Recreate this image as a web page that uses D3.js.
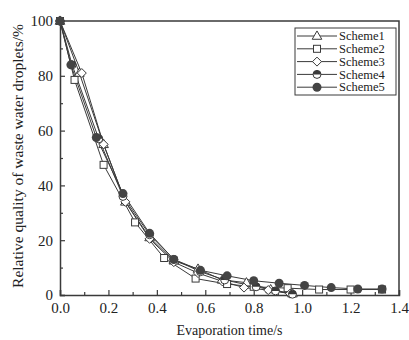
<!DOCTYPE html>
<html>
<head>
<meta charset="utf-8">
<script src="https://cdn.jsdelivr.net/npm/d3@7"></script>
<style>
  body { margin: 0; background: #fff; }
  text { font-family: "Liberation Serif", "Times New Roman", serif; fill: #222; }
</style>
</head>
<body>
<div id="chart-section"></div>
<script>
// data
var schemes = ["Scheme1", "Scheme2", "Scheme3", "Scheme4", "Scheme5"];

var time1 = [0, 0.08, 0.18, 0.27, 0.37, 0.47, 0.57, 0.67, 0.77, 0.87, 0.96];
var mass1 = [100, 81, 55, 34, 21, 12.5, 9.5, 5.5, 4.5, 2, 0.5];

var time2 = [0, 0.06, 0.18, 0.31, 0.43, 0.56, 0.69, 0.80, 0.94, 1.07, 1.20, 1.33];
var mass2 = [100, 78.5, 47.5, 26.5, 13.5, 6, 4, 3, 2.5, 2, 2, 2];

var time3 = [0, 0.09, 0.18, 0.27, 0.37, 0.47, 0.57, 0.67, 0.76, 0.86, 0.95];
var mass3 = [100, 81, 55, 34, 20.5, 12, 8, 5, 2.7, 1.8, 0.5];

var time4 = [0, 0.05, 0.16, 0.26, 0.37, 0.47, 0.58, 0.68, 0.81, 0.89, 0.96];
var mass4 = [100, 84, 57, 36, 22, 13, 8.5, 5.5, 3, 1.5, 0.3];

var time5 = [0, 0.045, 0.15, 0.26, 0.37, 0.47, 0.58, 0.69, 0.80, 0.905, 1.01, 1.12, 1.23, 1.33];
var mass5 = [100, 84, 57.5, 37, 22.5, 13, 9, 7, 5.2, 4.3, 3.5, 2.7, 2.2, 2.2];

var xTicks = [0, 0.2, 0.4, 0.6, 0.8, 1.0, 1.2, 1.4];
var yTicks = [0, 20, 40, 60, 80, 100];

var series = [
  {name: schemes[0], t: time1, m: mass1, mark: "triangle"},
  {name: schemes[1], t: time2, m: mass2, mark: "square"},
  {name: schemes[2], t: time3, m: mass3, mark: "diamond"},
  {name: schemes[3], t: time4, m: mass4, mark: "half"},
  {name: schemes[4], t: time5, m: mass5, mark: "circle"}
];

var margin = {top: 21, right: 10, bottom: 45, left: 60},
    width = 409 - margin.left - margin.right,
    height = 340 - margin.top - margin.bottom;

var svg = d3.select("#chart-section")
    .append("svg")
    .attr("width", 409)
    .attr("height", 340);

var chart = svg.append("g")
    .attr("transform", "translate(" + margin.left + "," + margin.top + ")");

var xscale = d3.scaleLinear().domain([0, 1.4]).range([0, width]);
var yscale = d3.scaleLinear().domain([0, 100]).range([height, 0]);

var ink = "#3a3a3a";

// minor ticks
chart.append("g")
    .attr("transform", "translate(0," + height + ")")
    .call(d3.axisBottom(xscale).tickValues(d3.range(0.1, 1.4, 0.2)).tickSize(-3).tickFormat(""))
    .call(g => g.select(".domain").remove());
chart.append("g")
    .call(d3.axisLeft(yscale).tickValues(d3.range(10, 100, 20)).tickSize(-3).tickFormat(""))
    .call(g => g.select(".domain").remove());

// major axes
var xaxis = chart.append("g")
    .attr("transform", "translate(0," + height + ")")
    .call(d3.axisBottom(xscale).tickValues(xTicks).tickSize(-5).tickPadding(7).tickFormat(d3.format(".1f")));
var yaxis = chart.append("g")
    .call(d3.axisLeft(yscale).tickValues(yTicks).tickSize(-5).tickPadding(7));

chart.selectAll(".tick line").attr("stroke", ink).attr("stroke-width", 1.2);
chart.selectAll(".domain").attr("stroke", ink).attr("stroke-width", 1.5);
chart.selectAll(".tick text").attr("font-size", 15).attr("fill", "#222")
    .attr("font-family", "Liberation Serif, serif");

// frame top and right
chart.append("path")
    .attr("d", "M0,0H" + width + "V" + height)
    .attr("fill", "none").attr("stroke", ink).attr("stroke-width", 1.5);

// labels
svg.append("text")
    .text("Evaporation time/s")
    .attr("font-size", 14)
    .attr("text-anchor", "middle")
    .attr("x", margin.left + width / 2)
    .attr("y", 335);
svg.append("text")
    .text("Relative quality of waste water droplets/%")
    .attr("font-size", 15.5)
    .attr("text-anchor", "middle")
    .attr("transform", "translate(23," + (margin.top + height / 2 - 2) + ") rotate(-90)");

// markers
function drawMark(g, type, x, y) {
  var r = 4;
  if (type === "triangle") {
    g.append("path").attr("d", d3.symbol(d3.symbolTriangle, 40)())
      .attr("transform", "translate(" + x + "," + (y + 0.5) + ")")
      .attr("fill", "#fff").attr("stroke", ink).attr("stroke-width", 1);
  } else if (type === "square") {
    g.append("rect").attr("x", x - 3.5).attr("y", y - 3.5).attr("width", 7).attr("height", 7)
      .attr("fill", "#fff").attr("stroke", ink).attr("stroke-width", 1);
  } else if (type === "diamond") {
    g.append("path").attr("d", "M0,-4.5L4.5,0L0,4.5L-4.5,0Z")
      .attr("transform", "translate(" + x + "," + y + ")")
      .attr("fill", "#fff").attr("stroke", ink).attr("stroke-width", 1);
  } else if (type === "half") {
    g.append("circle").attr("cx", x).attr("cy", y).attr("r", r)
      .attr("fill", "#fff").attr("stroke", ink).attr("stroke-width", 1);
    g.append("path").attr("d", "M" + (x - r) + "," + y + "A" + r + "," + r + " 0 0 1 " + (x + r) + "," + y + "Z")
      .attr("fill", ink);
  } else {
    g.append("circle").attr("cx", x).attr("cy", y).attr("r", 4.5).attr("fill", "#444");
  }
}

var line = d3.line().x(d => xscale(d[0])).y(d => yscale(d[1]));

series.forEach(function(s) {
  var pts = s.t.map((t, i) => [t, s.m[i]]);
  chart.append("path")
    .datum(pts)
    .attr("d", line)
    .attr("fill", "none")
    .attr("stroke", ink)
    .attr("stroke-width", 1);
});
series.forEach(function(s) {
  var g = chart.append("g");
  s.t.forEach(function(t, i) { drawMark(g, s.mark, xscale(t), yscale(s.m[i])); });
});

// legend
var legend = svg.append("g").attr("transform", "translate(295,28)");
legend.append("rect").attr("width", 101).attr("height", 67)
  .attr("fill", "#fff").attr("stroke", ink).attr("stroke-width", 1);
series.forEach(function(s, i) {
  var y = 8 + i * 12.8;
  var g = legend.append("g");
  g.append("line").attr("x1", 2).attr("x2", 42).attr("y1", y).attr("y2", y)
    .attr("stroke", ink).attr("stroke-width", 1);
  drawMark(g, s.mark, 22, y);
  g.append("text").text(s.name).attr("x", 44).attr("y", y).attr("dy", "0.33em").attr("font-size", 12.5);
});
</script>
</body>
</html>
